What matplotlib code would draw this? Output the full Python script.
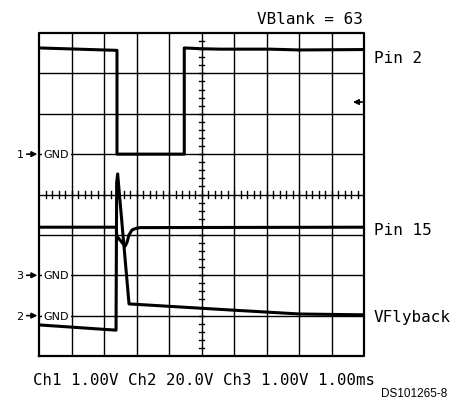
import matplotlib
matplotlib.use("Agg")
import matplotlib.pyplot as plt
import numpy as np

# traces in screen divisions (x: 0..10, y: 0..8 from bottom)
pin2_x = [0, 2.40, 2.40, 4.47, 4.47, 5.0, 5.57, 7.1, 8.0, 10]
pin2_y = [7.63, 7.57, 5.00, 5.00, 7.63, 7.61, 7.60, 7.60, 7.58, 7.59]

pin15_x = [0, 2.38, 2.39, 2.65, 2.71, 2.77, 2.86, 2.98, 3.11, 10]
pin15_y = [3.19, 3.19, 2.97, 2.72, 2.82, 3.00, 3.12, 3.16, 3.18, 3.19]

vfly_x = [0, 2.37, 2.39, 2.42, 2.77, 5.88, 8.03, 10]
vfly_y = [0.77, 0.64, 4.30, 4.51, 1.29, 1.14, 1.04, 1.02]

gnd_levels = [5.0, 2.0, 1.0]
gnd_names = ["1", "3", "2"]
trace_names = ["Pin 2", "Pin 15", "VFlyback"]
header = "VBlank = 63"
footer = "Ch1 1.00V Ch2 20.0V Ch3 1.00V 1.00ms"
fig_code = "DS101265-8"
trig_level = 6.29

W, H = 457, 402
fig = plt.figure(figsize=(W / 100, H / 100), dpi=100)
ax = fig.add_axes([39 / W, (H - 357) / H, 325 / W, 323 / H])
ax.set_xlim(0, 10)
ax.set_ylim(0, 8)
ax.axis("off")

# graticule
for gx in range(1, 10):
    ax.plot([gx, gx], [0, 8], color="k", lw=1.0, zorder=1)
for gy in range(1, 8):
    ax.plot([0, 10], [gy, gy], color="k", lw=1.0, zorder=1)
ax.plot([0, 10, 10, 0, 0], [0, 0, 8, 8, 0], color="k", lw=1.6, zorder=4, clip_on=False)

# minor ticks on the centre lines
for tx in np.arange(0.2, 10, 0.2):
    ax.plot([tx, tx], [3.92, 4.08], color="k", lw=1.0, zorder=1)
for ty in np.arange(0.2, 8, 0.2):
    ax.plot([4.91, 5.09], [ty, ty], color="k", lw=1.0, zorder=1)

# traces
ax.plot(pin2_x, pin2_y, color="k", lw=2.2, zorder=3)
ax.plot(pin15_x, pin15_y, color="k", lw=2.2, zorder=3)
ax.plot(vfly_x, vfly_y, color="k", lw=2.2, zorder=3)

# ground markers
for lvl, name in zip(gnd_levels, gnd_names):
    ax.text(0.15, lvl, "GND", fontsize=8, family="DejaVu Sans", va="center", ha="left",
            zorder=2, bbox=dict(facecolor="white", edgecolor="none", pad=1.5))
    ax.annotate("", xy=(-0.05, lvl), xytext=(-0.38, lvl),
                arrowprops=dict(arrowstyle="-|>", lw=1.2, color="k",
                                mutation_scale=8, shrinkA=0, shrinkB=0),
                annotation_clip=False)
    ax.text(-0.58, lvl, name, fontsize=8, family="DejaVu Sans", va="center", ha="center",
            clip_on=False)

# trigger level arrow on the right
ax.annotate("", xy=(9.66, trig_level), xytext=(9.95, trig_level),
            arrowprops=dict(arrowstyle="-|>", lw=1.2, color="k",
                            mutation_scale=8, shrinkA=0, shrinkB=0))

mono = "DejaVu Sans Mono"
fig.text(257 / W, 1 - 24 / H, header, fontsize=11.5, family=mono, va="baseline")
for name, base in zip(trace_names, [63, 235, 322]):
    fig.text(374 / W, 1 - base / H, name, fontsize=11.5, family=mono, va="baseline")
fig.text(33 / W, 1 - 385 / H, footer, fontsize=11.3, family=mono, va="baseline")
fig.text(447 / W, 1 - 397 / H, fig_code, fontsize=8.5, family="Liberation Sans",
         va="baseline", ha="right")

fig.savefig("out.png", dpi=100)
